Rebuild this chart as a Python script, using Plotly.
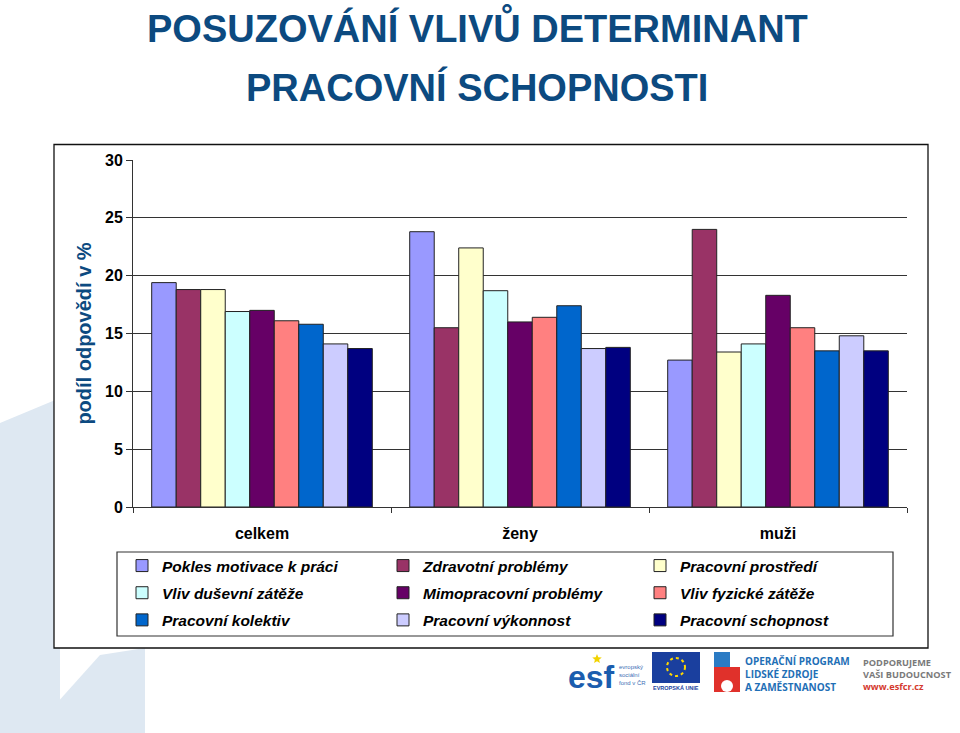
import math
import plotly.graph_objects as go

# ---------------- data ----------------
categories = ["celkem", "ženy", "muži"]

series_names = [
    "Pokles motivace k práci",
    "Zdravotní problémy",
    "Pracovní prostředí",
    "Vliv duševní zátěže",
    "Mimopracovní problémy",
    "Vliv fyzické zátěže",
    "Pracovní kolektiv",
    "Pracovní výkonnost",
    "Pracovní schopnost",
]

pokles_motivace = [19.4, 23.8, 12.7]
zdravotni_problemy = [18.8, 15.5, 24.0]
pracovni_prostredi = [18.8, 22.4, 13.4]
vliv_dusevni = [16.9, 18.7, 14.1]
mimopracovni = [17.0, 16.0, 18.3]
vliv_fyzicke = [16.1, 16.4, 15.5]
pracovni_kolektiv = [15.8, 17.4, 13.5]
pracovni_vykonnost = [14.1, 13.7, 14.8]
pracovni_schopnost = [13.7, 13.8, 13.5]

y_tick_values = [0, 5, 10, 15, 20, 25, 30]

series_values = [
    pokles_motivace, zdravotni_problemy, pracovni_prostredi,
    vliv_dusevni, mimopracovni, vliv_fyzicke,
    pracovni_kolektiv, pracovni_vykonnost, pracovni_schopnost,
]

series_colors = [
    "#9999FF", "#993366", "#FFFFCC",
    "#CCFFFF", "#660066", "#FF8080",
    "#0066CC", "#CCCCFF", "#000080",
]

# ---------------- layout helpers ----------------
W, H = 960, 733
PL, PR, PT, PB = 133, 907, 160, 507
PW, PH = PR - PL, PB - PT


def px(x):
    return (x - PL) / PW


def py(y):
    return (PB - y) / PH


def path(points):
    s = "M " + " L ".join(f"{px(x):.5f},{py(y):.5f}" for x, y in points) + " Z"
    return s


def star(cx, cy, r_out, r_in):
    pts = []
    for k in range(10):
        r = r_out if k % 2 == 0 else r_in
        a = -math.pi / 2 + k * math.pi / 5
        pts.append((cx + r * math.cos(a), cy + r * math.sin(a)))
    return path(pts)


FONT = "Arial, 'Liberation Sans', sans-serif"
TITLE_BLUE = "#0C4A80"

fig = go.Figure()

legend_ids = ["legend", "legend2", "legend3"]
for i, (name, vals, col) in enumerate(zip(series_names, series_values, series_colors)):
    fig.add_trace(go.Bar(
        x=categories, y=vals, name=name,
        marker=dict(color=col, line=dict(color="#222222", width=1)),
        legend=legend_ids[i % 3],
        legendgroup=f"g{i}",
    ))

legend_common = dict(
    orientation="v",
    xanchor="left", yanchor="top",
    bgcolor="rgba(0,0,0,0)", borderwidth=0,
    tracegroupgap=4,
    font=dict(family=FONT, size=15.5, color="black", weight="bold", style="italic"),
)

shapes = []
# faint watermark in the background
WM = "#DEE8F2"
shapes.append(dict(type="path", xref="paper", yref="paper", layer="below",
                   path=path([(0, 423), (60, 398), (60, 733), (0, 733)]),
                   fillcolor=WM, line=dict(width=0)))
shapes.append(dict(type="path", xref="paper", yref="paper", layer="below",
                   path=path([(30, 733), (100, 655), (145, 648), (145, 733)]),
                   fillcolor=WM, line=dict(width=0)))
# chart frame
shapes.append(dict(type="rect", xref="paper", yref="paper", layer="below",
                   x0=px(54), x1=px(928), y0=py(648), y1=py(144.5),
                   fillcolor="white", line=dict(color="#111111", width=1.3)))
# legend frame
shapes.append(dict(type="rect", xref="paper", yref="paper", layer="below",
                   x0=px(117), x1=px(893), y0=py(636), y1=py(552),
                   fillcolor="rgba(0,0,0,0)", line=dict(color="#333333", width=1.2)))

# ---- logos (approximation) ----
shapes.append(dict(type="path", xref="paper", yref="paper",
                   path=star(597, 659, 5, 2.2), fillcolor="#F2D300", line=dict(width=0)))
# EU flag
shapes.append(dict(type="rect", xref="paper", yref="paper",
                   x0=px(652), x1=px(700), y0=py(683), y1=py(652),
                   fillcolor="#1A3F9E", line=dict(width=0)))
shapes.append(dict(type="circle", xref="paper", yref="paper",
                   x0=px(667), x1=px(685), y0=py(676), y1=py(658),
                   fillcolor="rgba(0,0,0,0)", line=dict(color="#FFD700", width=2, dash="dot")))
# puzzle icon
shapes.append(dict(type="rect", xref="paper", yref="paper",
                   x0=px(714), x1=px(730), y0=py(668), y1=py(652),
                   fillcolor="#2B7BC4", line=dict(width=0)))
shapes.append(dict(type="rect", xref="paper", yref="paper",
                   x0=px(714), x1=px(740), y0=py(692), y1=py(667),
                   fillcolor="#E0312B", line=dict(width=0)))
shapes.append(dict(type="circle", xref="paper", yref="paper",
                   x0=px(721), x1=px(733), y0=py(692), y1=py(680),
                   fillcolor="white", line=dict(width=0)))

annotations = [
    dict(text="POSUZOVÁNÍ VLIVŮ DETERMINANT", x=px(477), y=py(27), xref="paper", yref="paper",
         showarrow=False, xanchor="center", yanchor="middle",
         font=dict(family=FONT, size=38, color=TITLE_BLUE, weight="bold")),
    dict(text="PRACOVNÍ SCHOPNOSTI", x=px(477), y=py(88), xref="paper", yref="paper",
         showarrow=False, xanchor="center", yanchor="middle",
         font=dict(family=FONT, size=38, color=TITLE_BLUE, weight="bold")),
    # logo texts
    dict(text="esf", x=px(591), y=py(677), xref="paper", yref="paper", showarrow=False,
         xanchor="center", yanchor="middle",
         font=dict(family=FONT, size=32, color="#1B5DAE", weight="bold")),
    dict(text="evropský<br>sociální<br>fond v ČR", x=px(617), y=py(675), xref="paper", yref="paper",
         showarrow=False, xanchor="left", yanchor="middle", align="left",
         font=dict(family=FONT, size=6, color="#3D6FB6")),
    dict(text="EVROPSKÁ UNIE", x=px(676), y=py(688), xref="paper", yref="paper", showarrow=False,
         xanchor="center", yanchor="middle", font=dict(family=FONT, size=5.5, color="#1A3F9E", weight="bold")),
    dict(text="OPERAČNÍ PROGRAM<br>LIDSKÉ ZDROJE<br>A ZAMĚSTNANOST", x=px(743), y=py(674),
         xref="paper", yref="paper", showarrow=False, xanchor="left", yanchor="middle", align="left",
         font=dict(family="'Open Sans', sans-serif", size=10, color="#1F6FB6", weight="bold")),
    dict(text="PODPORUJEME<br>VAŠI BUDOUCNOST<br><span style='color:#D43A2F'>www.esfcr.cz</span>",
         x=px(861), y=py(674), xref="paper", yref="paper", showarrow=False,
         xanchor="left", yanchor="middle", align="left",
         font=dict(family="'Open Sans', sans-serif", size=9.2, color="#7A7A7A", weight="bold")),
]

fig.update_layout(
    width=W, height=H,
    margin=dict(l=PL, r=W - PR, t=PT, b=H - PB, autoexpand=False),
    paper_bgcolor="white",
    plot_bgcolor="rgba(0,0,0,0)",
    barmode="group",
    bargap=0.145,
    bargroupgap=0,
    font=dict(family=FONT, color="black"),
    legend=dict(x=px(122), y=py(549), **legend_common),
    legend2=dict(x=px(383), y=py(549), **legend_common),
    legend3=dict(x=px(640), y=py(549), **legend_common),
    shapes=shapes,
    annotations=annotations,
    xaxis=dict(
        type="category",
        showline=True, linecolor="#333333", linewidth=1,
        ticks="outside", tickson="boundaries", ticklen=5, tickcolor="#333333",
        tickfont=dict(family=FONT, size=16, color="black", weight="bold"),
        ticklabelstandoff=12,
        showgrid=False, zeroline=False, fixedrange=True,
    ),
    yaxis=dict(
        range=[0, 30], tickvals=y_tick_values,
        showline=True, linecolor="#333333", linewidth=1,
        ticks="outside", ticklen=6, tickcolor="#333333",
        showgrid=True, gridcolor="#333333", gridwidth=1,
        zeroline=False,
        tickfont=dict(family=FONT, size=16, color="black", weight="bold"),
        title=dict(text="podíl odpovědí v %", standoff=8,
                   font=dict(family=FONT, size=20, color=TITLE_BLUE, weight="bold")),
        fixedrange=True,
    ),
)

fig.write_html("out.html", config={"displayModeBar": False},
               post_script="document.body.style.margin='0';document.body.style.overflow='hidden';")
